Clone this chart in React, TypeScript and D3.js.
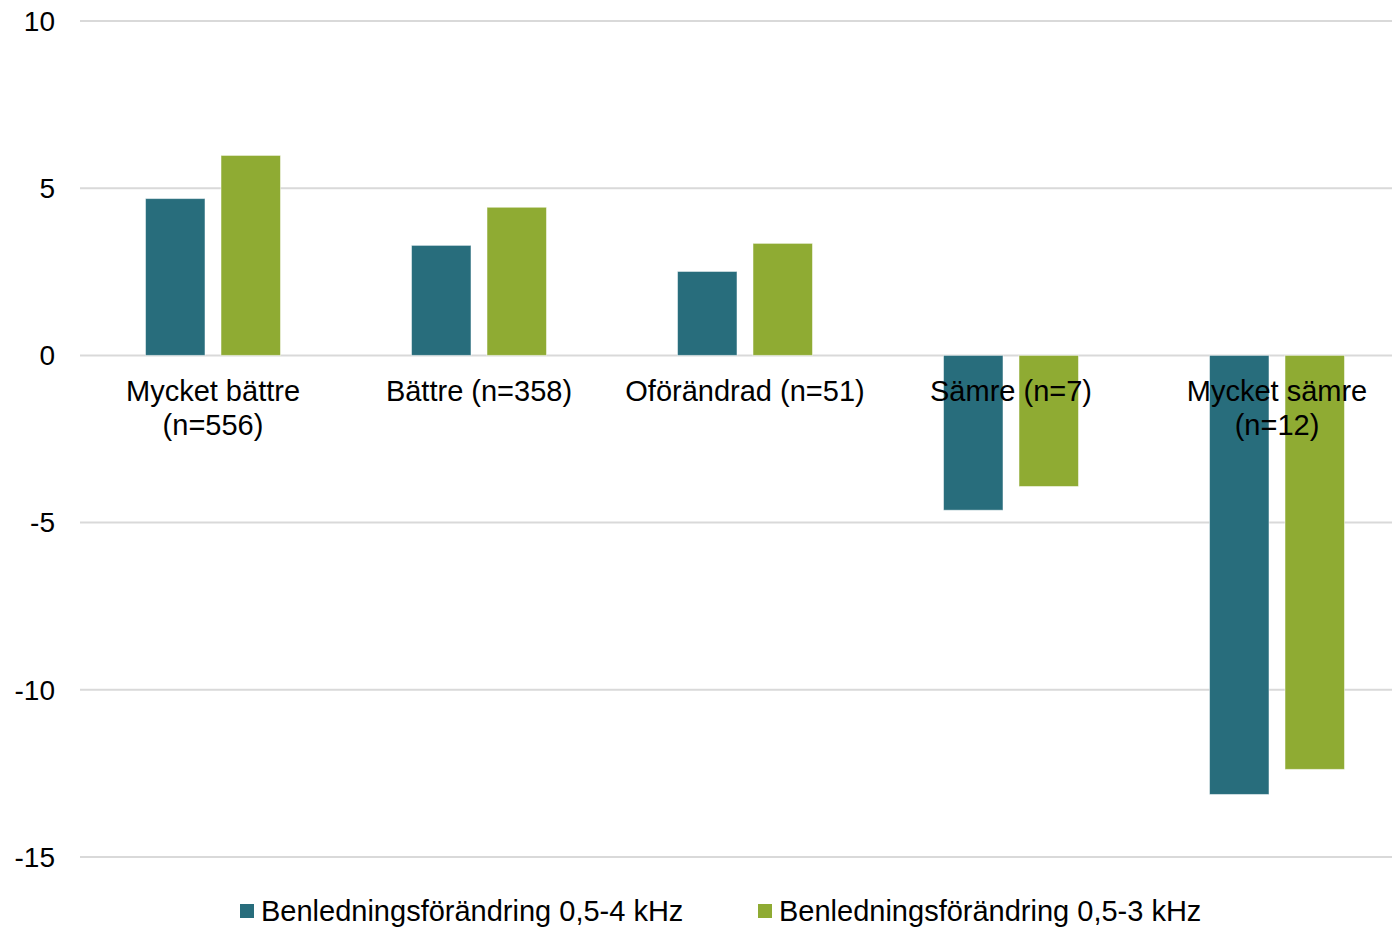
import { useEffect, useRef } from "react";
import * as d3 from "d3";

const categories = [
  ["Mycket bättre", "(n=556)"],
  ["Bättre (n=358)"],
  ["Oförändrad (n=51)"],
  ["Sämre (n=7)"],
  ["Mycket sämre", "(n=12)"],
];
const seriesNames = ["Benledningsförändring 0,5-4 kHz", "Benledningsförändring 0,5-3 kHz"];
const series4k = [4.69, 3.29, 2.51, -4.63, -13.13];
const series3k = [5.98, 4.43, 3.35, -3.92, -12.38];
const yTicks = [10, 5, 0, -5, -10, -15];
const colors = ["#286D7C", "#8FAB33"];

const W = 1392;
const H = 929;
const font = "'Liberation Sans', Arial, sans-serif";

const App: React.FC = () => {
  const svgRef = useRef<SVGSVGElement | null>(null);

  useEffect(() => {
    if (!svgRef.current) return;
    const svg = d3.select(svgRef.current);
    svg.selectAll("*").remove();

    const left = 80;
    const right = 1392;
    // the plot area runs a little past the right edge of the picture
    const y = d3.scaleLinear().domain([-15, 10]).range([857, 21]);
    const x0 = d3
      .scaleBand<number>()
      .domain(d3.range(categories.length))
      .range([left, 1410])
      .padding(0);
    const x1 = d3
      .scaleBand<number>()
      .domain([0, 1])
      .range([0, x0.bandwidth()])
      .paddingInner(0.212)
      .paddingOuter(0.868);

    // grid + y labels
    svg
      .append("g")
      .selectAll("line")
      .data(yTicks)
      .enter()
      .append("line")
      .attr("x1", left)
      .attr("x2", right)
      .attr("y1", (d) => y(d))
      .attr("y2", (d) => y(d))
      .attr("stroke", "#d9d9d9")
      .attr("stroke-width", 2);

    svg
      .append("g")
      .selectAll("text")
      .data(yTicks)
      .enter()
      .append("text")
      .attr("x", 55)
      .attr("y", (d) => y(d))
      .attr("dy", "0.35em")
      .attr("text-anchor", "end")
      .attr("font-family", font)
      .attr("font-size", 28)
      .attr("fill", "#000")
      .text((d) => d);

    const data = [series4k, series3k];
    data.forEach((vals, s) => {
      svg
        .append("g")
        .selectAll("rect")
        .data(vals)
        .enter()
        .append("rect")
        .attr("x", (_, i) => (x0(i) ?? 0) + (x1(s) ?? 0))
        .attr("width", x1.bandwidth())
        .attr("y", (d) => y(Math.max(0, d)))
        .attr("height", (d) => Math.abs(y(d) - y(0)))
        .attr("fill", colors[s])
        .attr("stroke", "#ffffff")
        .attr("stroke-opacity", 0.5)
        .attr("stroke-width", 1);
    });

    // category labels
    const labels = svg.append("g");
    categories.forEach((lines, i) => {
      const cx = (x0(i) ?? 0) + x0.bandwidth() / 2;
      lines.forEach((t, j) => {
        labels
          .append("text")
          .attr("x", cx)
          .attr("y", 401 + j * 34)
          .attr("text-anchor", "middle")
          .attr("font-family", font)
          .attr("font-size", 29)
          .attr("fill", "#000")
          .text(t);
      });
    });

    // legend
    const legendX = [240, 758];
    seriesNames.forEach((name, s) => {
      const g = svg.append("g").attr("transform", `translate(${legendX[s]},0)`);
      g.append("rect")
        .attr("x", 0)
        .attr("y", 904)
        .attr("width", 14)
        .attr("height", 14)
        .attr("fill", colors[s]);
      g.append("text")
        .attr("x", 21)
        .attr("y", 921)
        .attr("font-family", font)
        .attr("font-size", 29)
        .attr("fill", "#000")
        .text(name);
    });
  }, []);

  return (
    <svg
      ref={svgRef}
      width={W}
      height={H}
      style={{ position: "absolute", left: 0, top: 0, background: "#fff" }}
    />
  );
};

export default App;
